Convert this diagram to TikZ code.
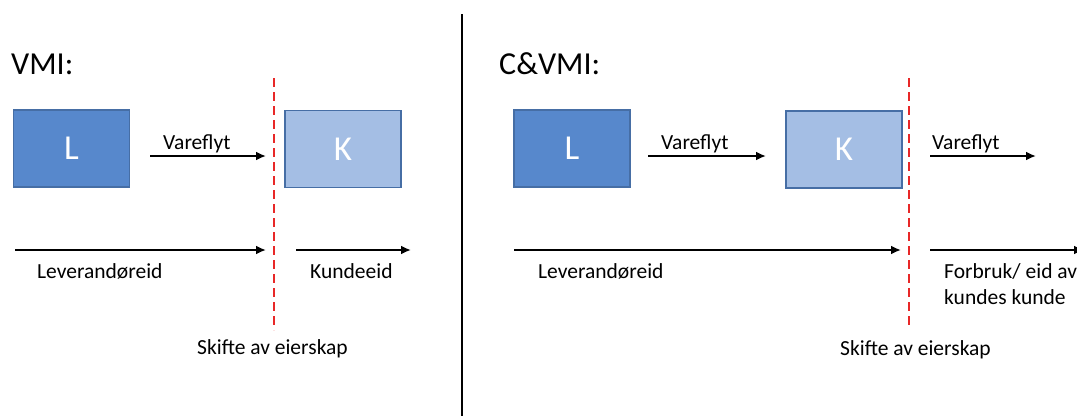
\documentclass[tikz,border=0pt]{standalone}
\usepackage{fontspec}
\setmainfont{Carlito}
\usetikzlibrary{arrows.meta}
\definecolor{Lfill}{RGB}{87,136,204}
\definecolor{Kfill}{RGB}{164,190,228}
\definecolor{boxline}{RGB}{70,110,165}
\definecolor{cut}{RGB}{232,40,40}
\tikzset{
  lbox/.style={draw=boxline, line width=1.3pt, fill=Lfill, minimum width=116pt, minimum height=77pt, inner sep=0pt, text=white, font=\fontsize{35}{40}\selectfont},
  kbox/.style={lbox, fill=Kfill},
  flow/.style={line width=2.3pt, -{Latex[length=10pt,width=9pt]}},
  cutline/.style={draw=cut, line width=2pt, dash pattern=on 9pt off 5pt},
  lbl/.style={anchor=west, inner sep=0pt, font=\fontsize{21.5}{26}\selectfont},
  title/.style={anchor=west, inner sep=0pt, font=\fontsize{32}{36}\selectfont}
}
\begin{document}
\begin{tikzpicture}[x=1pt,y=-1pt]
\useasboundingbox (0,0) rectangle (1077,416);
% divider
\coordinate (dtop) at (462,14);
\coordinate (dbot) at (462,416);
\draw[line width=2pt] (dtop) -- (dbot);
% titles
\node[title] (t1) at (11,64) {VMI:};
\node[title] (t2) at (499,64) {C\&VMI:};
% left part
\node[lbox] (L1) at (71.5,148.5) {L};
\node[kbox] (K1) at (343,149) {K};
\coordinate (c1t) at (274,78);
\coordinate (c1b) at (274,330);
\draw[cutline] (c1t) -- (c1b);
\coordinate (v1a) at (150,156); \coordinate (v1b) at (266,156);
\draw[flow] (v1a) -- (v1b);
\node[lbl] (v1l) at (163,144) {Vareflyt};
\coordinate (le1a) at (15,250); \coordinate (le1b) at (266,250);
\draw[flow] (le1a) -- (le1b);
\node[lbl] (le1l) at (37,271) {Leverandøreid};
\coordinate (ku1a) at (296,250); \coordinate (ku1b) at (411,250);
\draw[flow] (ku1a) -- (ku1b);
\node[lbl] (ku1l) at (310,271) {Kundeeid};
\node[lbl] (s1) at (197,349) {Skifte av eierskap};
% right part
\node[lbox] (L2) at (572,148.5) {L};
\node[kbox] (K2) at (844,149.5) {K};
\coordinate (c2t) at (909,78);
\coordinate (c2b) at (909,326);
\draw[cutline] (c2t) -- (c2b);
\coordinate (v2a) at (648,156); \coordinate (v2b) at (766,156);
\draw[flow] (v2a) -- (v2b);
\node[lbl] (v2l) at (661,144) {Vareflyt};
\coordinate (v3a) at (930,156); \coordinate (v3b) at (1036,156);
\draw[flow] (v3a) -- (v3b);
\node[lbl] (v3l) at (932,144) {Vareflyt};
\coordinate (le2a) at (514,250); \coordinate (le2b) at (901,250);
\draw[flow] (le2a) -- (le2b);
\node[lbl] (le2l) at (538,271) {Leverandøreid};
\coordinate (fo2a) at (930,250); \coordinate (fo2b) at (1084,250);
\draw[flow] (fo2a) -- (fo2b);
\node[lbl] (fo2l) at (944,271) {Forbruk/ eid av};
\node[lbl] (fo2m) at (944,297) {kundes kunde};
\node[lbl] (s2) at (840,350) {Skifte av eierskap};
\end{tikzpicture}
\end{document}
